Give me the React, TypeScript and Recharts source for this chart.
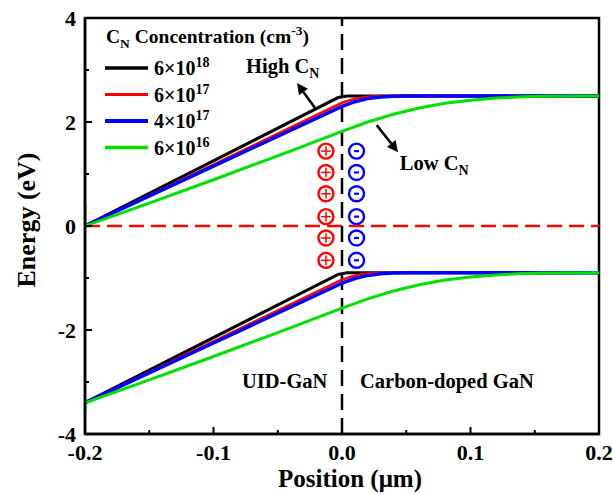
import React from 'react'
import {
    ComposedChart,
    Line,
    Scatter,
    XAxis,
    YAxis,
    ReferenceLine,
    ReferenceArea,
    ReferenceDot,
    Legend,
} from 'recharts'

const FONT = "'Liberation Serif', 'Times New Roman', Times, serif"

// band edges (position in µm, energy in eV)
const blackX = [-0.2, -0.003, 0.004, 0.2]
const blackCB = [0, 2.47, 2.5, 2.5]
const blackVB = [-3.4, -0.93, -0.9, -0.9]

const redX = [-0.2, -0.1, 0, 0.01, 0.02, 0.03, 0.2]
const redCB = [0, 1.18, 2.37, 2.45, 2.485, 2.5, 2.5]
const redVB = [-3.4, -2.22, -1.03, -0.95, -0.915, -0.9, -0.9]

const blueX = [-0.2, -0.1, 0, 0.01, 0.02, 0.03, 0.04, 0.05, 0.2]
const blueCB = [0, 1.15, 2.3, 2.39, 2.45, 2.48, 2.495, 2.5, 2.5]
const blueVB = [-3.4, -2.25, -1.1, -1.01, -0.95, -0.92, -0.905, -0.9, -0.9]

const greenX = [-0.2, -0.2, -0.15, -0.1, -0.05, 0, 0.02, 0.04, 0.06, 0.08, 0.1, 0.12, 0.14, 0.16, 0.2]
const greenCB = [0.42, 0, 0.44, 0.89, 1.35, 1.82, 2.0, 2.15, 2.27, 2.36, 2.42, 2.46, 2.485, 2.495, 2.5]
const greenVB = [-3.6, -3.4, -2.96, -2.51, -2.05, -1.58, -1.4, -1.25, -1.13, -1.04, -0.98, -0.94, -0.915, -0.905, -0.9]

// legend: C_N concentration = mantissa x 10^exp
const concMantissa = [6, 6, 4, 6]
const concExp = [18, 17, 17, 16]

// interface charges
const chargeE = [1.44, 1.03, 0.62, 0.18, -0.23, -0.66]
const posChargeX = -0.0125
const negChargeX = 0.0113

const xTicks = [-0.2, -0.15, -0.1, -0.05, 0, 0.05, 0.1, 0.15, 0.2]
const yTicks = [-4, -3, -2, -1, 0, 1, 2, 3, 4]

const pts = (xs: number[], es: number[]) => xs.map((x, i) => ({ x, e: es[i] }))

const series = [
    { x: blackX, cb: blackCB, vb: blackVB, color: '#000000', width: 3 },
    { x: redX, cb: redCB, vb: redVB, color: '#ff0000', width: 2.5 },
    { x: blueX, cb: blueCB, vb: blueVB, color: '#0000ff', width: 3.5 },
    { x: greenX, cb: greenCB, vb: greenVB, color: '#00e000', width: 3 },
]

const txt = { fontFamily: FONT, fontWeight: 'bold' as const, fill: '#000' }

const XTick = (props: any) => {
    const { x, y, payload } = props
    const v = payload.value
    const major = Math.abs(Math.round(v * 10) - v * 10) < 1e-6
    return (
        <g>
            <line x1={x} x2={x} y1={y} y2={y - (major ? 7 : 4)} stroke="#000" strokeWidth={2} />
            {major && (
                <text x={x} y={y + 26} textAnchor="middle" fontSize={22} {...txt}>
                    {v.toFixed(1)}
                </text>
            )}
        </g>
    )
}

const YTick = (props: any) => {
    const { x, y, payload } = props
    const v = payload.value
    const major = v % 2 === 0
    return (
        <g>
            <line x1={x} x2={x + (major ? 7 : 4)} y1={y} y2={y} stroke="#000" strokeWidth={2} />
            {major && (
                <text x={x - 9} y={y + 8} textAnchor="end" fontSize={22} {...txt}>
                    {v}
                </text>
            )}
        </g>
    )
}

const YTitle = (props: any) => {
    const vb = props.viewBox || { x: 25, y: 18, height: 416 }
    const cx = vb.x + 1
    const cy = vb.y + vb.height / 2 - 6
    return (
        <text x={cx} y={cy} transform={`rotate(-90 ${cx} ${cy})`} textAnchor="middle" dominantBaseline="central" fontSize={26} {...txt}>
            Energy (eV)
        </text>
    )
}

const XTitle = (props: any) => {
    const vb = props.viewBox || { x: 85, y: 434, width: 514 }
    return (
        <text x={vb.x + vb.width / 2 + 8} y={vb.y + 53} textAnchor="middle" fontSize={25} {...txt}>
            Position (μm)
        </text>
    )
}

const Arrow = (p: any) => {
    const { x1, y1, x2, y2 } = p
    const dx = x2 - x1
    const dy = y2 - y1
    const len = Math.hypot(dx, dy) || 1
    const ux = dx / len
    const uy = dy / len
    const hl = 11
    const hw = 5.5
    const bx = x2 - ux * hl
    const by = y2 - uy * hl
    return (
        <g>
            <line x1={x1} y1={y1} x2={bx} y2={by} stroke="#000" strokeWidth={2.5} />
            <polygon points={`${x2},${y2} ${bx - uy * hw},${by + ux * hw} ${bx + uy * hw},${by - ux * hw}`} fill="#000" />
        </g>
    )
}

const note = (main: string, sub?: string) => (p: any) => (
    <text x={p.cx} y={p.cy} fontSize={20.5} {...txt}>
        {main}
        {sub && (
            <tspan dy={5} fontSize={14}>
                {sub}
            </tspan>
        )}
    </text>
)

const PosCharge = (p: any) => (
    <g>
        <circle cx={p.cx} cy={p.cy} r={7.5} fill="none" stroke="#ff0000" strokeWidth={2.4} />
        <line x1={p.cx - 4.8} x2={p.cx + 4.8} y1={p.cy} y2={p.cy} stroke="#ff0000" strokeWidth={1.5} />
        <line x1={p.cx} x2={p.cx} y1={p.cy - 4.8} y2={p.cy + 4.8} stroke="#ff0000" strokeWidth={1.5} />
    </g>
)

const NegCharge = (p: any) => (
    <g>
        <circle cx={p.cx} cy={p.cy} r={7.5} fill="none" stroke="#0000ff" strokeWidth={2.4} />
        <line x1={p.cx - 2.5} x2={p.cx + 2.5} y1={p.cy} y2={p.cy} stroke="#0000ff" strokeWidth={2.2} />
    </g>
)

const LegendBox = () => (
    <svg width={330} height={165} style={{ display: 'block' }}>
        <text x={106} y={43} fontSize={19.5} {...txt}>
            C
            <tspan dy={5} fontSize={13.5}>N</tspan>
            <tspan dy={-5}> Concentration (cm</tspan>
            <tspan dy={-8} fontSize={13.5}>-3</tspan>
            <tspan dy={8}>)</tspan>
        </text>
        {concMantissa.map((m, i) => {
            const y = 68 + i * 26.5
            return (
                <g key={i}>
                    <line x1={105} x2={148} y1={y} y2={y} stroke={series[i].color} strokeWidth={series[i].width + 0.5} />
                    <text x={154} y={y + 7} fontSize={20} {...txt}>
                        {m}×10
                        <tspan dy={-8} fontSize={14}>{concExp[i]}</tspan>
                    </text>
                </g>
            )
        })}
    </svg>
)

export default function App() {
    return (
        <div style={{ position: 'absolute', left: 0, top: 0, width: 613, height: 494, background: '#fff' }}>
            <ComposedChart width={613} height={494} margin={{ top: 18, right: 14, bottom: 30, left: 25 }}>
                <XAxis
                    dataKey="x"
                    type="number"
                    domain={[-0.2, 0.2]}
                    allowDataOverflow
                    ticks={xTicks}
                    interval={0}
                    height={30}
                    tickSize={0}
                    tickMargin={0}
                    tickLine={false}
                    tick={<XTick />}
                    axisLine={{ stroke: '#000', strokeWidth: 2.5 }}
                    label={(p: any) => <XTitle {...p} />}
                />
                <YAxis
                    type="number"
                    domain={[-4, 4]}
                    allowDataOverflow
                    ticks={yTicks}
                    interval={0}
                    width={60}
                    tickSize={0}
                    tickMargin={0}
                    tickLine={false}
                    tick={<YTick />}
                    axisLine={{ stroke: '#000', strokeWidth: 2.5 }}
                    label={(p: any) => <YTitle {...p} />}
                />
                <ReferenceArea x1={-0.2} x2={0.2} y1={-4} y2={4} fill="none" stroke="#000" strokeWidth={2.5} ifOverflow="visible" />
                <ReferenceLine y={0} stroke="#ff0000" strokeWidth={2.5} strokeDasharray="15 7" />
                <ReferenceLine x={0} stroke="#000" strokeWidth={2.5} strokeDasharray="16 8" />
                {series.map((s, i) => (
                    <Line
                        key={'cb' + i}
                        data={pts(s.x, s.cb)}
                        dataKey="e"
                        type="linear"
                        stroke={s.color}
                        strokeWidth={s.width}
                        dot={false}
                        activeDot={false}
                        isAnimationActive={false}
                    />
                ))}
                {series.map((s, i) => (
                    <Line
                        key={'vb' + i}
                        data={pts(s.x, s.vb)}
                        dataKey="e"
                        type="linear"
                        stroke={s.color}
                        strokeWidth={s.width}
                        dot={false}
                        activeDot={false}
                        isAnimationActive={false}
                    />
                ))}
                <Scatter data={chargeE.map((e) => ({ x: posChargeX, e }))} dataKey="e" shape={PosCharge} isAnimationActive={false} />
                <Scatter data={chargeE.map((e) => ({ x: negChargeX, e }))} dataKey="e" shape={NegCharge} isAnimationActive={false} />
                <ReferenceLine segment={[{ x: -0.021, y: 2.27 }, { x: -0.035, y: 2.75 }]} shape={Arrow} />
                <ReferenceLine segment={[{ x: 0.027, y: 1.94 }, { x: 0.0436, y: 1.42 }]} shape={Arrow} />
                <ReferenceDot x={-0.0747} y={2.94} r={1} fill="none" stroke="none" shape={note('High C', 'N')} />
                <ReferenceDot x={0.045} y={1.077} r={1} fill="none" stroke="none" shape={note('Low C', 'N')} />
                <ReferenceDot x={-0.0778} y={-3.115} r={1} fill="none" stroke="none" shape={note('UID-GaN')} />
                <ReferenceDot x={0.014} y={-3.115} r={1} fill="none" stroke="none" shape={note('Carbon-doped GaN')} />
                <Legend
                    layout="horizontal"
                    verticalAlign="middle"
                    align="center"
                    content={() => <LegendBox />}
                    wrapperStyle={{ left: 0, top: 0, width: 330, height: 165, margin: 0, padding: 0 }}
                />
            </ComposedChart>
        </div>
    )
}
